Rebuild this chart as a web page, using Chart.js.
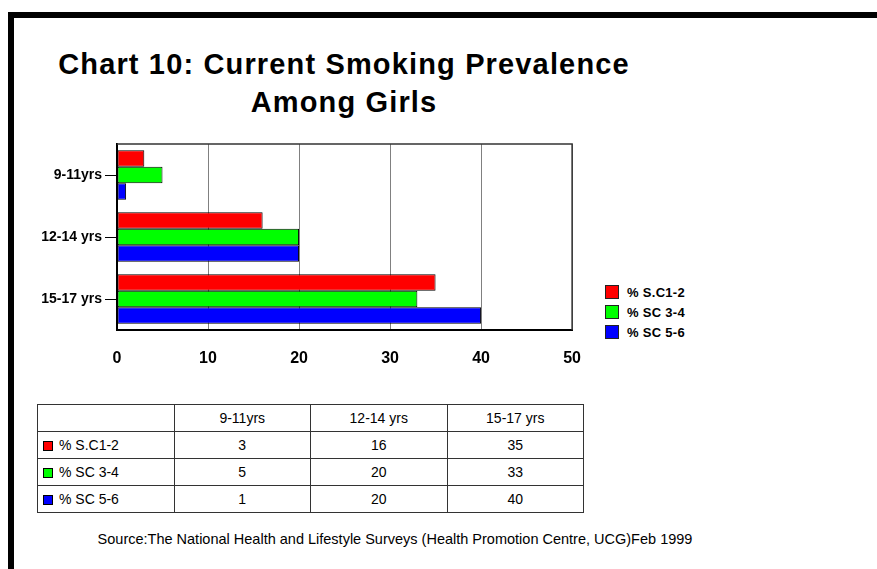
<!DOCTYPE html>
<html>
<head>
<meta charset="utf-8">
<script src="https://cdn.jsdelivr.net/npm/chart.js@4/dist/chart.umd.min.js"></script>
<style>
  html, body { margin: 0; padding: 0; background: #fff; }
  #page { position: relative; width: 877px; height: 569px; overflow: hidden;
          font-family: "Liberation Sans", Arial, sans-serif; color: #000; }
  .bar-top  { position: absolute; left: 8px; top: 12px; width: 869px; height: 6px; background: #000; }
  .bar-left { position: absolute; left: 8px; top: 12px; width: 6px; height: 557px; background: #000; }
  #title { position: absolute; left: 0; top: 45px; width: 688px; text-align: center;
           font-weight: bold; font-size: 29px; line-height: 38px; letter-spacing: 1.15px; margin: 0; }
  #chartBox { position: absolute; left: 0; top: 130px; width: 600px; height: 250px; }
  #legend { position: absolute; left: 605px; top: 282px; }
  #legend .row { height: 20px; display: flex; align-items: center; font-weight: bold; font-size: 13px; letter-spacing: 0.3px; }
  #legend .sw { width: 14px; height: 14px; border: 1px solid #222; margin-right: 8px; box-sizing: border-box; }
  #dataTable { position: absolute; left: 37px; top: 404px; border-collapse: collapse;
               table-layout: fixed; width: 547px; font-size: 14px; }
  #dataTable td { border: 1px solid #333; height: 26px; padding: 0; text-align: center; }
  #dataTable td.name { text-align: left; padding-left: 5px; }
  #dataTable .sq { display: inline-block; width: 10px; height: 10px; border: 1px solid #000;
                   box-sizing: border-box; margin-right: 6px; vertical-align: -1px; }
  #source { position: absolute; left: 0; top: 531px; width: 790px; text-align: center; font-size: 14.5px; }
</style>
</head>
<body>
<div id="page">
  <div class="bar-top"></div>
  <div class="bar-left"></div>
  <h1 id="title">Chart 10: Current Smoking Prevalence<br>Among Girls</h1>
  <div id="chartBox"><canvas id="chart" width="600" height="250"></canvas></div>
  <div id="legend"></div>
  <table id="dataTable"></table>
  <div id="source">Source:The National Health and Lifestyle Surveys (Health Promotion Centre, UCG)Feb 1999</div>
</div>
<script>
// Age groups (categories)
const ageGroups = ['9-11yrs', '12-14 yrs', '15-17 yrs'];

// Social class series names and colours
const seriesNames = ['% S.C1-2', '% SC 3-4', '% SC 5-6'];
const seriesColors = ['#ff0000', '#00ff00', '#0000ff'];

// Current smoking prevalence (%) per series
const sc12 = [3, 16, 35];
const sc34 = [5, 20, 33];
const sc56 = [1, 20, 40];

// Axis ticks
const xMin = 0, xMax = 50, xStep = 10;

const seriesValues = [sc12, sc34, sc56];

// Thin dark frame along the top and right of the plot area
const plotFrame = {
  id: 'plotFrame',
  afterDatasetsDraw(chart) {
    const { ctx, chartArea: a } = chart;
    ctx.save();
    ctx.strokeStyle = '#333';
    ctx.lineWidth = 1.5;
    ctx.beginPath();
    ctx.moveTo(a.left, a.top);
    ctx.lineTo(a.right, a.top);
    ctx.lineTo(a.right, a.bottom);
    ctx.stroke();
    ctx.restore();
  }
};

new Chart(document.getElementById('chart'), {
  type: 'bar',
  data: {
    labels: ageGroups,
    datasets: seriesNames.map((name, i) => ({
      label: name,
      data: seriesValues[i],
      backgroundColor: seriesColors[i],
      borderColor: '#000',
      borderWidth: 1,
      borderSkipped: false,
      categoryPercentage: 0.8,
      barPercentage: 1.0
    }))
  },
  options: {
    indexAxis: 'y',
    responsive: false,
    animation: false,
    devicePixelRatio: 1,
    layout: { padding: { left: 0, top: 14, right: 27, bottom: 10 } },
    plugins: {
      legend: { display: false },
      title: { display: false },
      tooltip: { enabled: false }
    },
    scales: {
      x: {
        min: xMin, max: xMax,
        ticks: { stepSize: xStep, padding: 19, color: '#000',
                 font: { family: 'Liberation Sans', size: 16, weight: 'bold' } },
        grid: { color: '#808080', lineWidth: 1, drawTicks: false },
        border: { color: '#000', width: 2 },
        afterFit(scale) { scale.height = 40; }
      },
      y: {
        ticks: { padding: 3, color: '#000',
                 font: { family: 'Liberation Sans', size: 14, weight: 'bold' } },
        grid: { offset: false, drawOnChartArea: false, drawTicks: true, tickLength: 12, color: '#000' },
        border: { color: '#000', width: 2 },
        afterFit(scale) { scale.width = 117; }
      }
    }
  },
  plugins: [plotFrame]
});

// Legend
const legend = document.getElementById('legend');
seriesNames.forEach((name, i) => {
  const row = document.createElement('div');
  row.className = 'row';
  row.innerHTML = '<span class="sw" style="background:' + seriesColors[i] + '"></span>' + name;
  legend.appendChild(row);
});

// Data table under the chart
const table = document.getElementById('dataTable');
let html = '<tr><td></td>' + ageGroups.map(g => '<td>' + g + '</td>').join('') + '</tr>';
seriesNames.forEach((name, i) => {
  html += '<tr><td class="name"><span class="sq" style="background:' + seriesColors[i] + '"></span>' + name + '</td>' +
          seriesValues[i].map(v => '<td>' + v + '</td>').join('') + '</tr>';
});
table.innerHTML = html;
</script>
</body>
</html>
